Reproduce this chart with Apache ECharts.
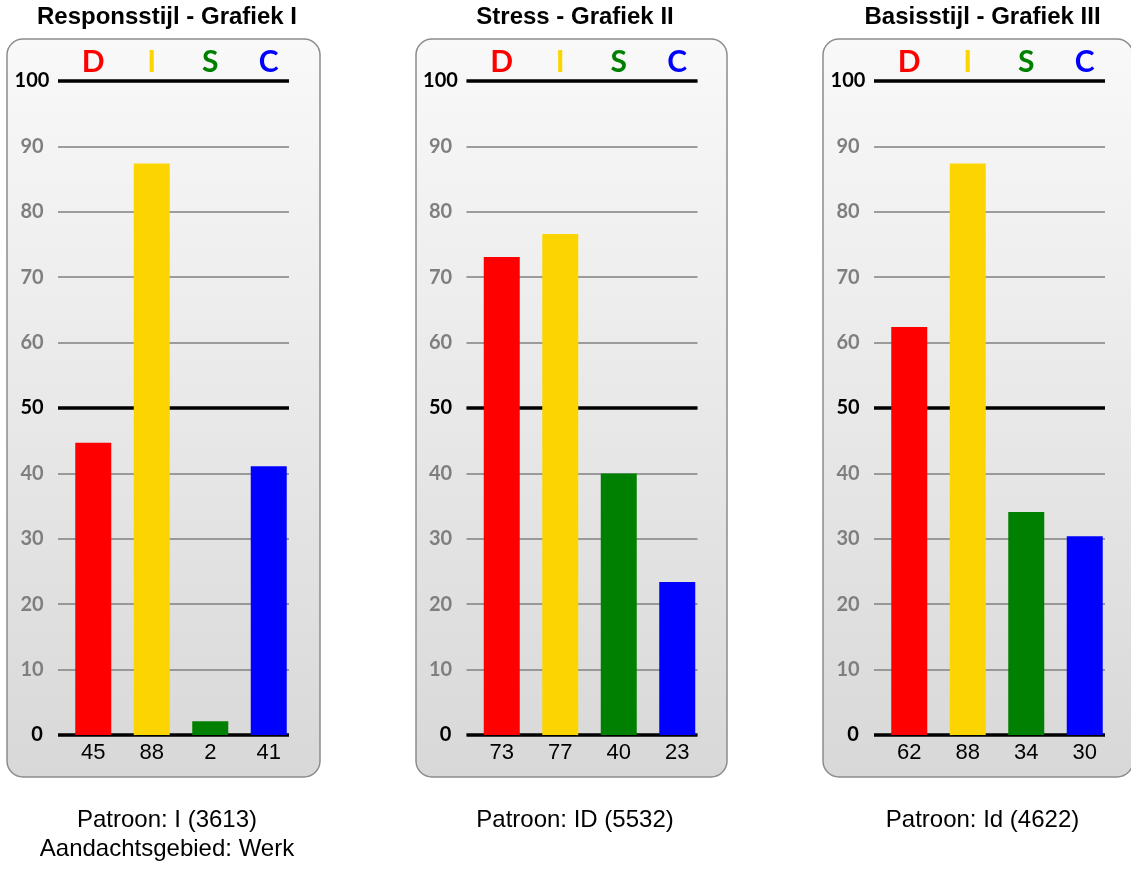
<!DOCTYPE html>
<html>
<head>
<meta charset="utf-8">
<script src="https://cdn.jsdelivr.net/npm/echarts@6/dist/echarts.min.js"></script>
<style>
html,body{margin:0;padding:0;background:#fff;}
#chart{width:1131px;height:874px;}
</style>
</head>
<body>
<div id="chart"></div>
<script>
// ---- data ----
const letters = ['D', 'I', 'S', 'C'];
const panelTitles = ['Responsstijl - Grafiek I', 'Stress - Grafiek II', 'Basisstijl - Grafiek III'];
const footers = ['Patroon: I (3613)\nAandachtsgebied: Werk', 'Patroon: ID (5532)', 'Patroon: Id (4622)'];
const valuesI = [44.7, 87.4, 2.1, 41.1];
const valuesII = [73.1, 76.6, 40.0, 23.4];
const valuesIII = [62.4, 87.4, 34.1, 30.4];
const labelsI = ['45', '88', '2', '41'];
const labelsII = ['73', '77', '40', '23'];
const labelsIII = ['62', '88', '34', '30'];
const yMin = 0, yMax = 100, yStep = 10, yMajorStep = 50;

const allValues = [valuesI, valuesII, valuesIII];
const allLabels = [labelsI, labelsII, labelsIII];
const barColors = ['#ff0000', '#fcd500', '#008000', '#0000ff'];

// ---- layout ----
const dxs = [0, 408.5, 816];
const panelRects = [[7, 313], [416, 311], [823, 310]];
const textCenters = [167, 575, 982.5];
const plotTop = 81, plotH = 654;

const chart = echarts.init(document.getElementById('chart'), null, {renderer: 'canvas'});

const grids = [], xAxes = [], yAxes = [], series = [], titles = [], graphics = [];

allValues.forEach((vals, p) => {
  const dx = dxs[p];
  const [px, pw] = panelRects[p];
  graphics.push({
    type: 'rect', z: -10,
    shape: {x: px, y: 39, width: pw, height: 738, r: 16},
    style: {
      fill: new echarts.graphic.LinearGradient(0, 0, 0, 1, [
        {offset: 0, color: '#f9f9f9'}, {offset: 1, color: '#d8d8d8'}
      ]),
      stroke: '#8c8c8c', lineWidth: 1.5
    }
  });
  titles.push({
    text: panelTitles[p], left: textCenters[p], top: 5, textAlign: 'center', padding: 0,
    textStyle: {fontFamily: 'Liberation Sans, Arial', fontWeight: 'bold', fontSize: 24, color: '#000'}
  });
  titles.push({
    text: footers[p], left: textCenters[p], top: 806, textAlign: 'center', padding: 0,
    textStyle: {fontFamily: 'Liberation Sans, Arial', fontWeight: 'normal', fontSize: 24, lineHeight: 29, color: '#000'}
  });

  // grid A: lines + y labels
  const gA = grids.length;
  grids.push({left: 58 + dx, top: plotTop, width: 231, height: plotH, containLabel: false});
  xAxes.push({gridIndex: gA, type: 'value', min: 0, max: 1, show: false});
  yAxes.push({
    gridIndex: gA, type: 'value', min: yMin, max: yMax, interval: yStep,
    axisLine: {show: false}, axisTick: {show: false},
    splitLine: {show: true, lineStyle: {color: '#808080', width: 1.5}},
    axisLabel: {
      show: true, align: 'center', margin: 26,
      formatter: v => v === 0 ? '{z|0}' : (v % yMajorStep === 0 ? '{k|' + v + '}' : '{g|' + v + '}'),
      rich: {
        k: {fontFamily: 'Lato', fontWeight: 'bold', fontSize: 20, color: '#000'},
        g: {fontFamily: 'Lato', fontWeight: 'bold', fontSize: 20, color: '#7f7f7f'},
        z: {fontFamily: 'Lato', fontWeight: 'bold', fontSize: 20, color: '#000', padding: [0, 0, 0, 10]}
      }
    }
  });
  yAxes.push({
    gridIndex: gA, type: 'value', min: yMin, max: yMax, interval: yMajorStep, z: 3,
    axisLine: {show: false}, axisTick: {show: false}, axisLabel: {show: false},
    splitLine: {show: true, lineStyle: {color: '#000', width: 3.5}}
  });

  // grid B: bars
  const gB = grids.length;
  grids.push({left: 64 + dx, top: plotTop, width: 234, height: plotH, containLabel: false});
  const xB = xAxes.length;
  xAxes.push({
    gridIndex: gB, type: 'category', position: 'bottom', data: allLabels[p],
    axisLine: {show: false}, axisTick: {show: false}, splitLine: {show: false},
    axisLabel: {margin: 7, fontFamily: 'Liberation Sans, Arial', fontSize: 22, color: '#000'}
  });
  xAxes.push({
    gridIndex: gB, type: 'category', position: 'top', data: letters,
    axisLine: {show: false}, axisTick: {show: false}, splitLine: {show: false},
    axisLabel: {
      margin: 4,
      formatter: (v, i) => '{c' + i + '|' + v + '}',
      rich: Object.fromEntries(barColors.map((c, i) => ['c' + i, {fontFamily: 'Lato', fontWeight: 'bold', fontSize: 30, color: c}]))
    }
  });
  const yB = yAxes.length;
  yAxes.push({gridIndex: gB, type: 'value', min: yMin, max: yMax, interval: yStep, show: false, splitLine: {show: false}});

  series.push({
    type: 'bar', xAxisIndex: xB, yAxisIndex: yB, barWidth: 36, z: 4,
    data: vals.map((v, i) => ({value: v, itemStyle: {color: barColors[i]}})),
    silent: true, animation: false
  });
});

chart.setOption({
  animation: false,
  backgroundColor: '#ffffff',
  title: titles,
  graphic: graphics,
  grid: grids,
  xAxis: xAxes,
  yAxis: yAxes,
  series: series
});
</script>
</body>
</html>
